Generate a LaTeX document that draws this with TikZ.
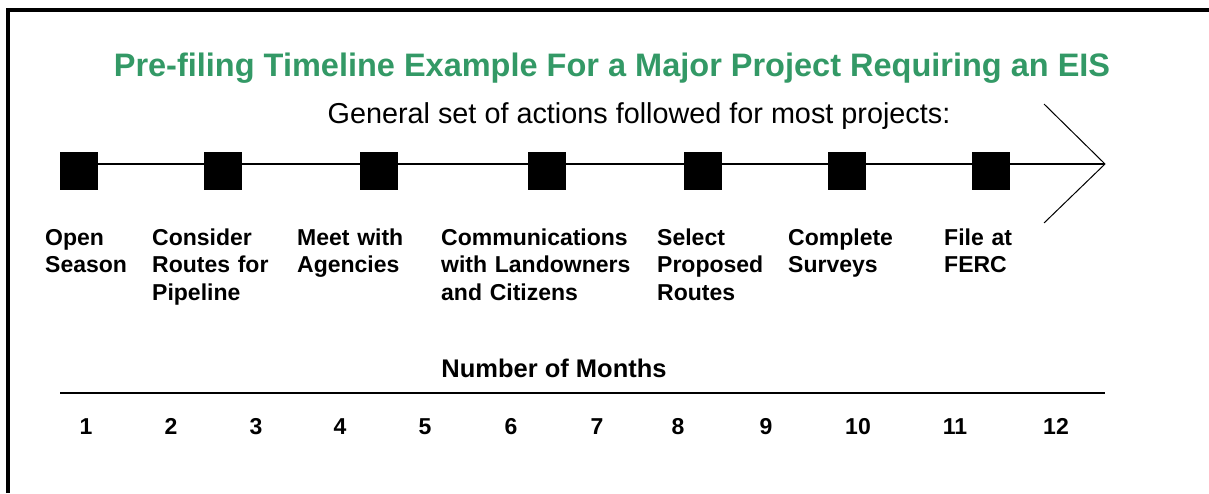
\documentclass[tikz,border=0pt]{standalone}
\usepackage{fontspec}
\setmainfont{Liberation Sans}
\usetikzlibrary{positioning}

\definecolor{titlegreen}{RGB}{51,153,102}

\begin{document}
\begin{tikzpicture}[x=1pt,y=-1pt,
    milestone/.style={fill=black, minimum size=38pt, inner sep=0pt},
    steplabel/.style={anchor=base west, inner sep=0pt, text width=220pt, align=left,
        font=\fontsize{23}{27.5}\selectfont\bfseries},
    month/.style={anchor=base, inner sep=0pt, font=\fontsize{23}{27.5}\selectfont\bfseries}]

    \useasboundingbox (0,0) rectangle (1209,493);

    % frame, open at right and bottom
    \draw[line width=4pt] (8,493) -- (8,10) -- (1209,10);

    \node[anchor=base, inner sep=0pt, text=titlegreen, font=\fontsize{32.5}{36}\selectfont\bfseries]
        (title) at (612,76) {Pre-filing Timeline Example For a Major Project Requiring an EIS};
    \node[anchor=base, inner sep=0pt, font=\fontsize{28.8}{32}\selectfont]
        (subtitle) at (639,123) {General set of actions followed for most projects:};

    % timeline
    \node[milestone] (sq1) at (79,171) {};
    \node[milestone] (sq2) at (223,171) {};
    \node[milestone] (sq3) at (379,171) {};
    \node[milestone] (sq4) at (547,171) {};
    \node[milestone] (sq5) at (703,171) {};
    \node[milestone] (sq6) at (847,171) {};
    \node[milestone] (sq7) at (991,171) {};

    \coordinate (tip) at (1105,164);
    \coordinate (headtop) at (1044,104);
    \coordinate (headbot) at (1044,223);
    \draw[line width=2pt] (sq1.east |- tip) -- (tip);
    \draw[line width=1pt] (headtop) -- (tip) -- (headbot);

    \node[steplabel] (open) at (45,245) {Open\\Season};
    \node[steplabel] (routes) at (152,245) {Consider\\Routes for\\Pipeline};
    \node[steplabel] (agencies) at (297,245) {Meet with\\Agencies};
    \node[steplabel] (comms) at (441,245) {Communications\\with Landowners\\and Citizens};
    \node[steplabel] (select) at (657,245) {Select\\Proposed\\Routes};
    \node[steplabel] (surveys) at (788,245) {Complete\\Surveys};
    \node[steplabel] (ferc) at (944,245) {File at\\FERC};

    % months axis
    \node[anchor=base, inner sep=0pt, font=\fontsize{25.5}{28}\selectfont\bfseries]
        (monthtitle) at (554,377) {Number of Months};
    \coordinate (ruleL) at (60,393);
    \coordinate (ruleR) at (1105,393);
    \draw[line width=2pt] (ruleL) -- (ruleR);

    \node[month] (m1) at (86,434) {1};
    \node[month] (m2) at (171,434) {2};
    \node[month] (m3) at (256,434) {3};
    \node[month] (m4) at (340,434) {4};
    \node[month] (m5) at (425,434) {5};
    \node[month] (m6) at (511,434) {6};
    \node[month] (m7) at (597,434) {7};
    \node[month] (m8) at (678,434) {8};
    \node[month] (m9) at (766,434) {9};
    \node[month] (m10) at (858,434) {10};
    \node[month] (m11) at (955,434) {11};
    \node[month] (m12) at (1056,434) {12};
\end{tikzpicture}
\end{document}
